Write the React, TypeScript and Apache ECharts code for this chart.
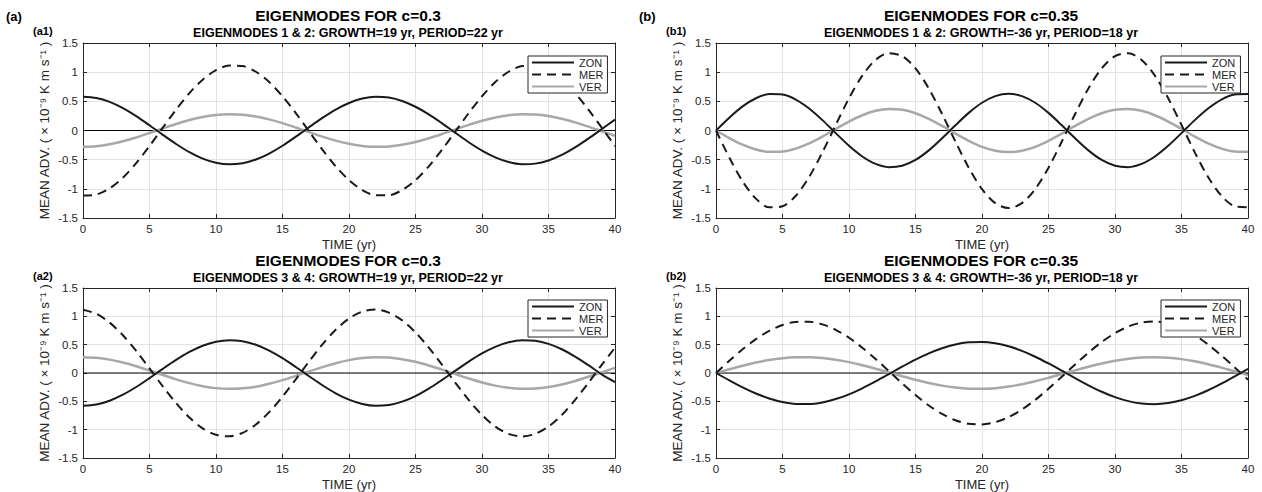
import React, { useEffect, useRef } from "react";
import * as echarts from "echarts";

const TIME = [0,1,2,3,4,5,6,7,8,9,10,11,12,13,14,15,16,17,18,19,20,21,22,23,24,25,26,27,28,29,30,31,32,33,34,35,36,37,38,39,40];

// Panel a1
const A1_ZON = [0.58,0.557,0.49,0.383,0.247,0.09,-0.074,-0.231,-0.371,-0.481,-0.552,-0.58,-0.561,-0.498,-0.395,-0.261,-0.106,0.057,0.216,0.358,0.471,0.547,0.579,0.565,0.506,0.407,0.276,0.122,-0.041,-0.201,-0.345,-0.461,-0.541,-0.578,-0.568,-0.514,-0.419,-0.29,-0.138,0.024,0.186];
const A1_MER = [-1.116,-1.098,-0.992,-0.809,-0.56,-0.267,0.048,0.358,0.641,0.871,1.034,1.113,1.104,1.007,0.83,0.587,0.298,-0.016,-0.328,-0.614,-0.851,-1.02,-1.109,-1.109,-1.02,-0.851,-0.614,-0.328,-0.016,0.298,0.587,0.83,1.007,1.104,1.113,1.034,0.871,0.641,0.358,0.048,-0.267];
const A1_VER = [-0.28,-0.269,-0.236,-0.185,-0.119,-0.043,0.036,0.112,0.179,0.232,0.267,0.28,0.271,0.241,0.191,0.126,0.051,-0.028,-0.104,-0.173,-0.227,-0.264,-0.279,-0.273,-0.244,-0.197,-0.133,-0.059,0.02,0.097,0.167,0.223,0.261,0.279,0.274,0.248,0.202,0.14,0.067,-0.012,-0.09];

// Panel a2
const A2_ZON = [-0.58,-0.557,-0.49,-0.383,-0.247,-0.09,0.074,0.231,0.371,0.481,0.552,0.58,0.561,0.498,0.395,0.261,0.106,-0.057,-0.216,-0.358,-0.471,-0.547,-0.579,-0.565,-0.506,-0.407,-0.276,-0.122,0.041,0.201,0.345,0.461,0.541,0.578,0.568,0.514,0.419,0.29,0.138,-0.024,-0.16];
const A2_MER = [1.116,1.045,0.89,0.666,0.389,0.08,-0.236,-0.532,-0.786,-0.978,-1.091,-1.118,-1.056,-0.909,-0.691,-0.418,-0.111,0.205,0.504,0.763,0.962,1.084,1.12,1.066,0.928,0.716,0.447,0.142,-0.174,-0.476,-0.74,-0.945,-1.075,-1.12,-1.075,-0.945,-0.74,-0.476,-0.174,0.142,0.447];
const A2_VER = [0.28,0.269,0.236,0.185,0.119,0.043,-0.036,-0.112,-0.179,-0.232,-0.267,-0.28,-0.271,-0.241,-0.191,-0.126,-0.051,0.028,0.104,0.173,0.227,0.264,0.279,0.273,0.244,0.197,0.133,0.059,-0.02,-0.097,-0.167,-0.223,-0.261,-0.279,-0.274,-0.248,-0.202,-0.14,-0.067,0.012,0.09];

// Panel b1
const B1_ZON = [0,0.22,0.413,0.553,0.624,0.616,0.53,0.377,0.178,-0.045,-0.262,-0.445,-0.573,-0.628,-0.604,-0.505,-0.341,-0.134,0.089,0.302,0.476,0.59,0.63,0.59,0.476,0.302,0.089,-0.134,-0.341,-0.505,-0.604,-0.628,-0.573,-0.445,-0.262,-0.045,0.178,0.377,0.53,0.616,0.624];
const B1_MER = [0,-0.464,-0.871,-1.168,-1.317,-1.299,-1.119,-0.797,-0.375,0.094,0.553,0.94,1.21,1.326,1.275,1.065,0.72,0.283,-0.189,-0.637,-1.005,-1.246,-1.33,-1.246,-1.005,-0.637,-0.189,0.283,0.72,1.065,1.275,1.326,1.21,0.94,0.553,0.094,-0.375,-0.797,-1.119,-1.299,-1.317];
const B1_VER = [0,-0.129,-0.242,-0.325,-0.366,-0.361,-0.311,-0.222,-0.104,0.026,0.154,0.262,0.337,0.369,0.355,0.296,0.2,0.079,-0.053,-0.177,-0.28,-0.347,-0.37,-0.347,-0.28,-0.177,-0.053,0.079,0.2,0.296,0.355,0.369,0.337,0.262,0.154,0.026,-0.104,-0.222,-0.311,-0.361,-0.366];

// Panel b2
const B2_ZON = [0,-0.13,-0.253,-0.361,-0.449,-0.512,-0.545,-0.547,-0.519,-0.46,-0.376,-0.27,-0.149,-0.02,0.111,0.235,0.347,0.437,0.504,0.542,0.549,0.525,0.471,0.39,0.287,0.168,0.04,-0.091,-0.217,-0.331,-0.425,-0.496,-0.538,-0.55,-0.53,-0.481,-0.404,-0.304,-0.187,-0.059,0.072];
const B2_MER = [0,0.216,0.419,0.598,0.743,0.846,0.902,0.905,0.858,0.762,0.622,0.447,0.247,0.033,-0.184,-0.389,-0.573,-0.723,-0.834,-0.896,-0.908,-0.868,-0.779,-0.645,-0.475,-0.278,-0.066,0.151,0.359,0.547,0.703,0.82,0.89,0.91,0.877,0.795,0.668,0.503,0.309,0.097,-0.119];
const B2_VER = [0,0.066,0.129,0.184,0.229,0.26,0.277,0.279,0.264,0.234,0.192,0.137,0.076,0.01,-0.057,-0.12,-0.176,-0.223,-0.256,-0.276,-0.279,-0.267,-0.24,-0.199,-0.146,-0.086,-0.02,0.046,0.111,0.168,0.216,0.252,0.274,0.28,0.27,0.245,0.206,0.155,0.095,0.03,-0.037];

const SERIES_NAMES = ["ZON", "MER", "VER"];
const PANEL_TITLES = ["EIGENMODES FOR c=0.3", "EIGENMODES FOR c=0.35", "EIGENMODES FOR c=0.3", "EIGENMODES FOR c=0.35"];
const PANEL_SUBTITLES = [
  "EIGENMODES 1 & 2: GROWTH=19 yr, PERIOD=22 yr",
  "EIGENMODES 1 & 2: GROWTH=-36 yr, PERIOD=18 yr",
  "EIGENMODES 3 & 4: GROWTH=19 yr, PERIOD=22 yr",
  "EIGENMODES 3 & 4: GROWTH=-36 yr, PERIOD=18 yr",
];
const PANEL_TAGS = ["(a1)", "(b1)", "(a2)", "(b2)"];
const COLUMN_TAGS = ["(a)", "(b)"];
const PANEL_DATA = [
  [A1_ZON, A1_MER, A1_VER],
  [B1_ZON, B1_MER, B1_VER],
  [A2_ZON, A2_MER, A2_VER],
  [B2_ZON, B2_MER, B2_VER],
];

const FONT = "'Liberation Sans', Arial, Helvetica, sans-serif";
const INK = "#262626";

// layout
const GRIDS = [
  { left: 83, top: 43, width: 532, height: 175 },
  { left: 716, top: 43, width: 532, height: 175 },
  { left: 83, top: 288, width: 532, height: 173 },
  { left: 716, top: 288, width: 532, height: 173 },
];
const TITLE_CX = [348, 981, 348, 981];
const LEGEND_POS = [
  { left: 528, top: 56 },
  { left: 1161, top: 56 },
  { left: 528, top: 300 },
  { left: 1161, top: 300 },
];

const STYLES = [
  { color: "#1a1a1a", width: 2, type: "solid" as any },
  { color: "#1a1a1a", width: 2, type: [9, 6] as any },
  { color: "#a8a8a8", width: 2.5, type: "solid" as any },
];

export default function App() {
  const ref = useRef<HTMLDivElement>(null);
  useEffect(() => {
    if (!ref.current) return;
    const chart = echarts.init(ref.current, undefined, { renderer: "svg" });

    const grid: any[] = [];
    const xAxis: any[] = [];
    const yAxis: any[] = [];
    const series: any[] = [];
    const legend: any[] = [];
    const graphic: any[] = [];

    GRIDS.forEach((g, p) => {
      grid.push({ ...g, show: false });
      const tick = { show: true, inside: true, length: 4, lineStyle: { color: INK, width: 1 } };
      const line = { show: true, onZero: false, lineStyle: { color: INK, width: 1 } };
      xAxis.push({
        type: "value", gridIndex: p, position: "bottom", min: 0, max: 40, interval: 5,
        axisLine: line, axisTick: tick,
        axisLabel: { fontSize: 11.5, color: INK, margin: 5, fontFamily: FONT },
        splitLine: { show: true, lineStyle: { color: "#e3e3e3", width: 1 } },
        name: "TIME (yr)", nameLocation: "middle", nameGap: 20,
        nameTextStyle: { fontSize: 13, color: INK, fontFamily: FONT },
      });
      xAxis.push({
        type: "value", gridIndex: p, position: "top", min: 0, max: 40, interval: 5,
        axisLine: line, axisTick: tick, axisLabel: { show: false }, splitLine: { show: false },
      });
      yAxis.push({
        type: "value", gridIndex: p, position: "left", min: -1.5, max: 1.5, interval: 0.5,
        axisLine: line, axisTick: tick,
        axisLabel: { fontSize: 11.5, color: INK, margin: 5, fontFamily: FONT },
        splitLine: { show: true, lineStyle: { color: "#e3e3e3", width: 1 } },
        name: "MEAN ADV. ( \u00d7 10\u207b\u2079 K m s\u207b\u00b9 )",
        nameLocation: "middle", nameGap: 32,
        nameTextStyle: { fontSize: 13.5, color: INK, fontFamily: FONT },
      });
      yAxis.push({
        type: "value", gridIndex: p, position: "right", min: -1.5, max: 1.5, interval: 0.5,
        axisLine: line, axisTick: tick, axisLabel: { show: false }, splitLine: { show: false },
      });

      series.push({
        type: "line", name: "zero" + p, xAxisIndex: 2 * p, yAxisIndex: 2 * p,
        data: [[0, 0], [40, 0]], symbol: "none", silent: true,
        lineStyle: { color: "#000", width: 1 }, z: 2,
      });
      const order = [2, 1, 0];
      order.forEach((k) => {
        const arr = PANEL_DATA[p][k];
        series.push({
          type: "line", name: SERIES_NAMES[k], xAxisIndex: 2 * p, yAxisIndex: 2 * p,
          data: TIME.map((t, i) => [t, arr[i]]),
          symbol: "none", showSymbol: false, smooth: 0.3,
          lineStyle: STYLES[k], itemStyle: { color: STYLES[k].color },
          z: 3 + (2 - k),
        });
      });

      legend.push({
        data: SERIES_NAMES, orient: "vertical", left: LEGEND_POS[p].left, top: LEGEND_POS[p].top,
        itemWidth: 42, itemHeight: 10, itemGap: 1, itemTextGap: 3,
        padding: [1, 4, 1, 3], backgroundColor: "#fff", borderColor: INK, borderWidth: 1,
        borderRadius: 0, selectedMode: false,
        itemStyle: { opacity: 0 },
        textStyle: { fontSize: 11, color: INK, fontFamily: FONT },
        z: 10,
      });

      graphic.push({
        type: "text", x: TITLE_CX[p], y: g.top - 28,
        style: { text: PANEL_TITLES[p], font: `bold 15.5px ${FONT}`, fill: "#000", textAlign: "center", textVerticalAlign: "middle" },
      });
      graphic.push({
        type: "text", x: TITLE_CX[p], y: g.top - 10,
        style: { text: PANEL_SUBTITLES[p], font: `bold 12.5px ${FONT}`, fill: "#000", textAlign: "center", textVerticalAlign: "middle" },
      });
      graphic.push({
        type: "text", x: g.left - 50, y: g.top - 12,
        style: { text: PANEL_TAGS[p], font: `bold 11px ${FONT}`, fill: "#000", textAlign: "left", textVerticalAlign: "middle" },
      });
    });

    COLUMN_TAGS.forEach((t, c) => {
      graphic.push({
        type: "text", x: GRIDS[c].left - 77, y: 16,
        style: { text: t, font: `bold 13px ${FONT}`, fill: "#000", textAlign: "left", textVerticalAlign: "middle" },
      });
    });

    chart.setOption({
      animation: false,
      backgroundColor: "#fff",
      textStyle: { fontFamily: FONT },
      grid, xAxis, yAxis, series, legend, graphic,
    });
    return () => chart.dispose();
  }, []);

  return (
    <div
      ref={ref}
      style={{ position: "fixed", left: 0, top: 0, width: 1262, height: 492, background: "#fff" }}
    />
  );
}
